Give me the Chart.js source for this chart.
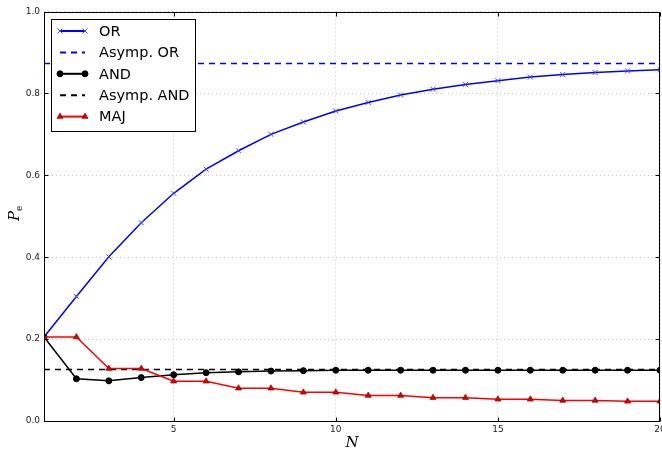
<!DOCTYPE html>
<html>
<head>
<meta charset="utf-8">
<script src="https://cdn.jsdelivr.net/npm/chart.js@4"></script>
<style>
  html, body { margin: 0; padding: 0; background: #fff; overflow: hidden; }
  #wrap { width: 662px; height: 452px; overflow: hidden; }
</style>
</head>
<body>
<div id="wrap"><canvas id="peChart" width="665" height="452"></canvas></div>
<script>
const nValues = [1, 2, 3, 4, 5, 6, 7, 8, 9, 10, 11, 12, 13, 14, 15, 16, 17, 18, 19, 20]
const orValues = [0.205, 0.304, 0.401, 0.484, 0.556, 0.615, 0.660, 0.700, 0.730, 0.757,
  0.778, 0.796, 0.810, 0.822, 0.831, 0.840, 0.846, 0.851, 0.855, 0.858]
const andValues = [0.205, 0.103, 0.098, 0.106, 0.113, 0.118, 0.120, 0.122, 0.123, 0.124,
  0.124, 0.124, 0.124, 0.124, 0.124, 0.124, 0.124, 0.124, 0.124, 0.124]
const majValues = [0.205, 0.205, 0.128, 0.128, 0.097, 0.097, 0.080, 0.080, 0.070, 0.070,
  0.062, 0.062, 0.057, 0.057, 0.053, 0.053, 0.050, 0.050, 0.048, 0.048]
const asympOr = 0.873
const asympAnd = 0.126
const xTickValues = [5, 10, 15, 20]
const legendLabels = ['OR', 'Asymp. OR', 'AND', 'Asymp. AND', 'MAJ']

const toPoints = (ys) => ys.map((y, i) => ({ x: nValues[i], y: y }))
const flatLine = (y) => [{ x: nValues[0], y: y }, { x: nValues[nValues.length - 1], y: y }]

const tickFont = { family: 'DejaVu Sans', size: 9 }

// frame, inward ticks, axis titles and legend
const decorPlugin = {
  id: 'decor',
  afterDraw(chart) {
    const ctx = chart.ctx
    const a = chart.chartArea
    const xs = chart.scales.x
    const ys = chart.scales.y
    ctx.save()
    ctx.strokeStyle = '#000'
    ctx.lineWidth = 1
    const l = Math.round(a.left) + 0.5, r = Math.round(a.right) - 0.5
    const t = Math.round(a.top) + 0.5, b = Math.round(a.bottom) + 0.5
    ctx.strokeRect(l, t, r - l, b - t)
    ctx.beginPath()
    xs.ticks.forEach((tk) => {
      const px = Math.round(xs.getPixelForValue(tk.value)) + 0.5
      ctx.moveTo(px, b); ctx.lineTo(px, b - 4)
      ctx.moveTo(px, t); ctx.lineTo(px, t + 4)
    })
    ys.ticks.forEach((tk) => {
      const py = Math.round(ys.getPixelForValue(tk.value)) + 0.5
      ctx.moveTo(l, py); ctx.lineTo(l + 4, py)
      ctx.moveTo(r, py); ctx.lineTo(r - 4, py)
    })
    ctx.stroke()

    // axis titles
    ctx.fillStyle = '#000'
    ctx.font = 'italic 15px "DejaVu Serif"'
    ctx.textAlign = 'center'
    ctx.textBaseline = 'middle'
    ctx.fillText('N', (a.left + a.right) / 2, 443)
    ctx.translate(15, 216)
    ctx.rotate(-Math.PI / 2)
    ctx.textAlign = 'left'
    ctx.fillText('P', -5, 0)
    ctx.font = '9px "DejaVu Serif"'
    ctx.fillText('e', 5, 5)
    ctx.restore()

    // legend
    ctx.save()
    const bx = 51.5, by = 19.5, bw = 144, bh = 112
    ctx.fillStyle = '#fff'
    ctx.fillRect(bx, by, bw, bh)
    ctx.strokeStyle = '#000'
    ctx.lineWidth = 1
    ctx.strokeRect(bx, by, bw, bh)
    ctx.font = '14.5px "DejaVu Sans"'
    ctx.textBaseline = 'middle'
    ctx.textAlign = 'left'
    const ds = chart.data.datasets
    legendLabels.forEach((label, i) => {
      const d = ds[i]
      const y = 31 + i * 21.4
      ctx.strokeStyle = d.borderColor
      ctx.lineWidth = 2
      ctx.setLineDash(d.borderDash || [])
      ctx.beginPath()
      ctx.moveTo(60, y); ctx.lineTo(85, y)
      ctx.stroke()
      ctx.setLineDash([])
      if (d.pointRadius > 0) {
        const opts = {
          pointStyle: d.pointStyle, radius: d.pointRadius, rotation: 0,
          borderWidth: d.pointBorderWidth
        }
        ctx.fillStyle = d.pointBackgroundColor
        ctx.strokeStyle = d.pointBorderColor
        ctx.lineWidth = d.pointBorderWidth
        Chart.helpers.drawPoint(ctx, opts, 60, y)
        Chart.helpers.drawPoint(ctx, opts, 85, y)
      }
      ctx.fillStyle = '#000'
      ctx.fillText(label, 99, y + 1)
    })
    ctx.restore()
  }
}

new Chart(document.getElementById('peChart').getContext('2d'), {
  type: 'line',
  data: {
    datasets: [
      {
        label: legendLabels[0],
        data: toPoints(orValues),
        borderColor: '#0000ff',
        borderWidth: 1.5,
        pointStyle: 'crossRot',
        pointRadius: 3.5,
        pointBorderColor: '#4040ff',
        pointBackgroundColor: '#0000ff',
        pointBorderWidth: 1,
        clip: 0,
        order: 5
      },
      {
        label: legendLabels[1],
        data: flatLine(asympOr),
        borderColor: '#0000ff',
        borderWidth: 1.5,
        borderDash: [6, 5],
        pointRadius: 0,
        clip: 0,
        order: 4
      },
      {
        label: legendLabels[2],
        data: toPoints(andValues),
        borderColor: '#000',
        borderWidth: 1.5,
        pointStyle: 'circle',
        pointRadius: 3,
        pointBorderColor: '#000',
        pointBackgroundColor: '#000',
        pointBorderWidth: 1,
        clip: 0,
        order: 3
      },
      {
        label: legendLabels[3],
        data: flatLine(asympAnd),
        borderColor: '#000',
        borderWidth: 1.5,
        borderDash: [6, 5],
        pointRadius: 0,
        clip: 0,
        order: 2
      },
      {
        label: legendLabels[4],
        data: toPoints(majValues),
        borderColor: '#ff0000',
        borderWidth: 1.5,
        pointStyle: 'triangle',
        pointRadius: 3.5,
        pointBorderColor: '#900000',
        pointBackgroundColor: '#e00000',
        pointBorderWidth: 0.7,
        clip: 0,
        order: 1
      }
    ]
  },
  options: {
    responsive: false,
    animation: false,
    events: [],
    layout: { padding: { top: 11.5, right: 0, left: 0, bottom: 0 } },
    plugins: {
      legend: { display: false },
      tooltip: { enabled: false }
    },
    scales: {
      x: {
        type: 'linear',
        min: 1,
        max: 20,
        afterBuildTicks: (scale) => {
          scale.ticks = xTickValues.map((v) => ({ value: v }))
        },
        afterFit: (scale) => {
          scale.height = 31
          scale.paddingLeft = 0
          scale.paddingRight = 0
        },
        ticks: {
          font: tickFont,
          color: '#222',
          padding: 3,
          maxRotation: 0,
          callback: (v) => String(v)
        },
        grid: {
          color: 'rgba(0,0,0,0.22)',
          lineWidth: 1,
          drawTicks: false
        },
        border: { display: false, dash: [1, 3] }
      },
      y: {
        min: 0,
        max: 1,
        afterFit: (scale) => {
          scale.width = 44
          scale.paddingTop = 0
          scale.paddingBottom = 0
        },
        ticks: {
          stepSize: 0.2,
          font: tickFont,
          color: '#222',
          padding: 4,
          callback: (v) => v.toFixed(1)
        },
        grid: {
          color: 'rgba(0,0,0,0.22)',
          lineWidth: 1,
          drawTicks: false
        },
        border: { display: false, dash: [1, 3] }
      }
    }
  },
  plugins: [decorPlugin]
})
</script>
</body>
</html>
